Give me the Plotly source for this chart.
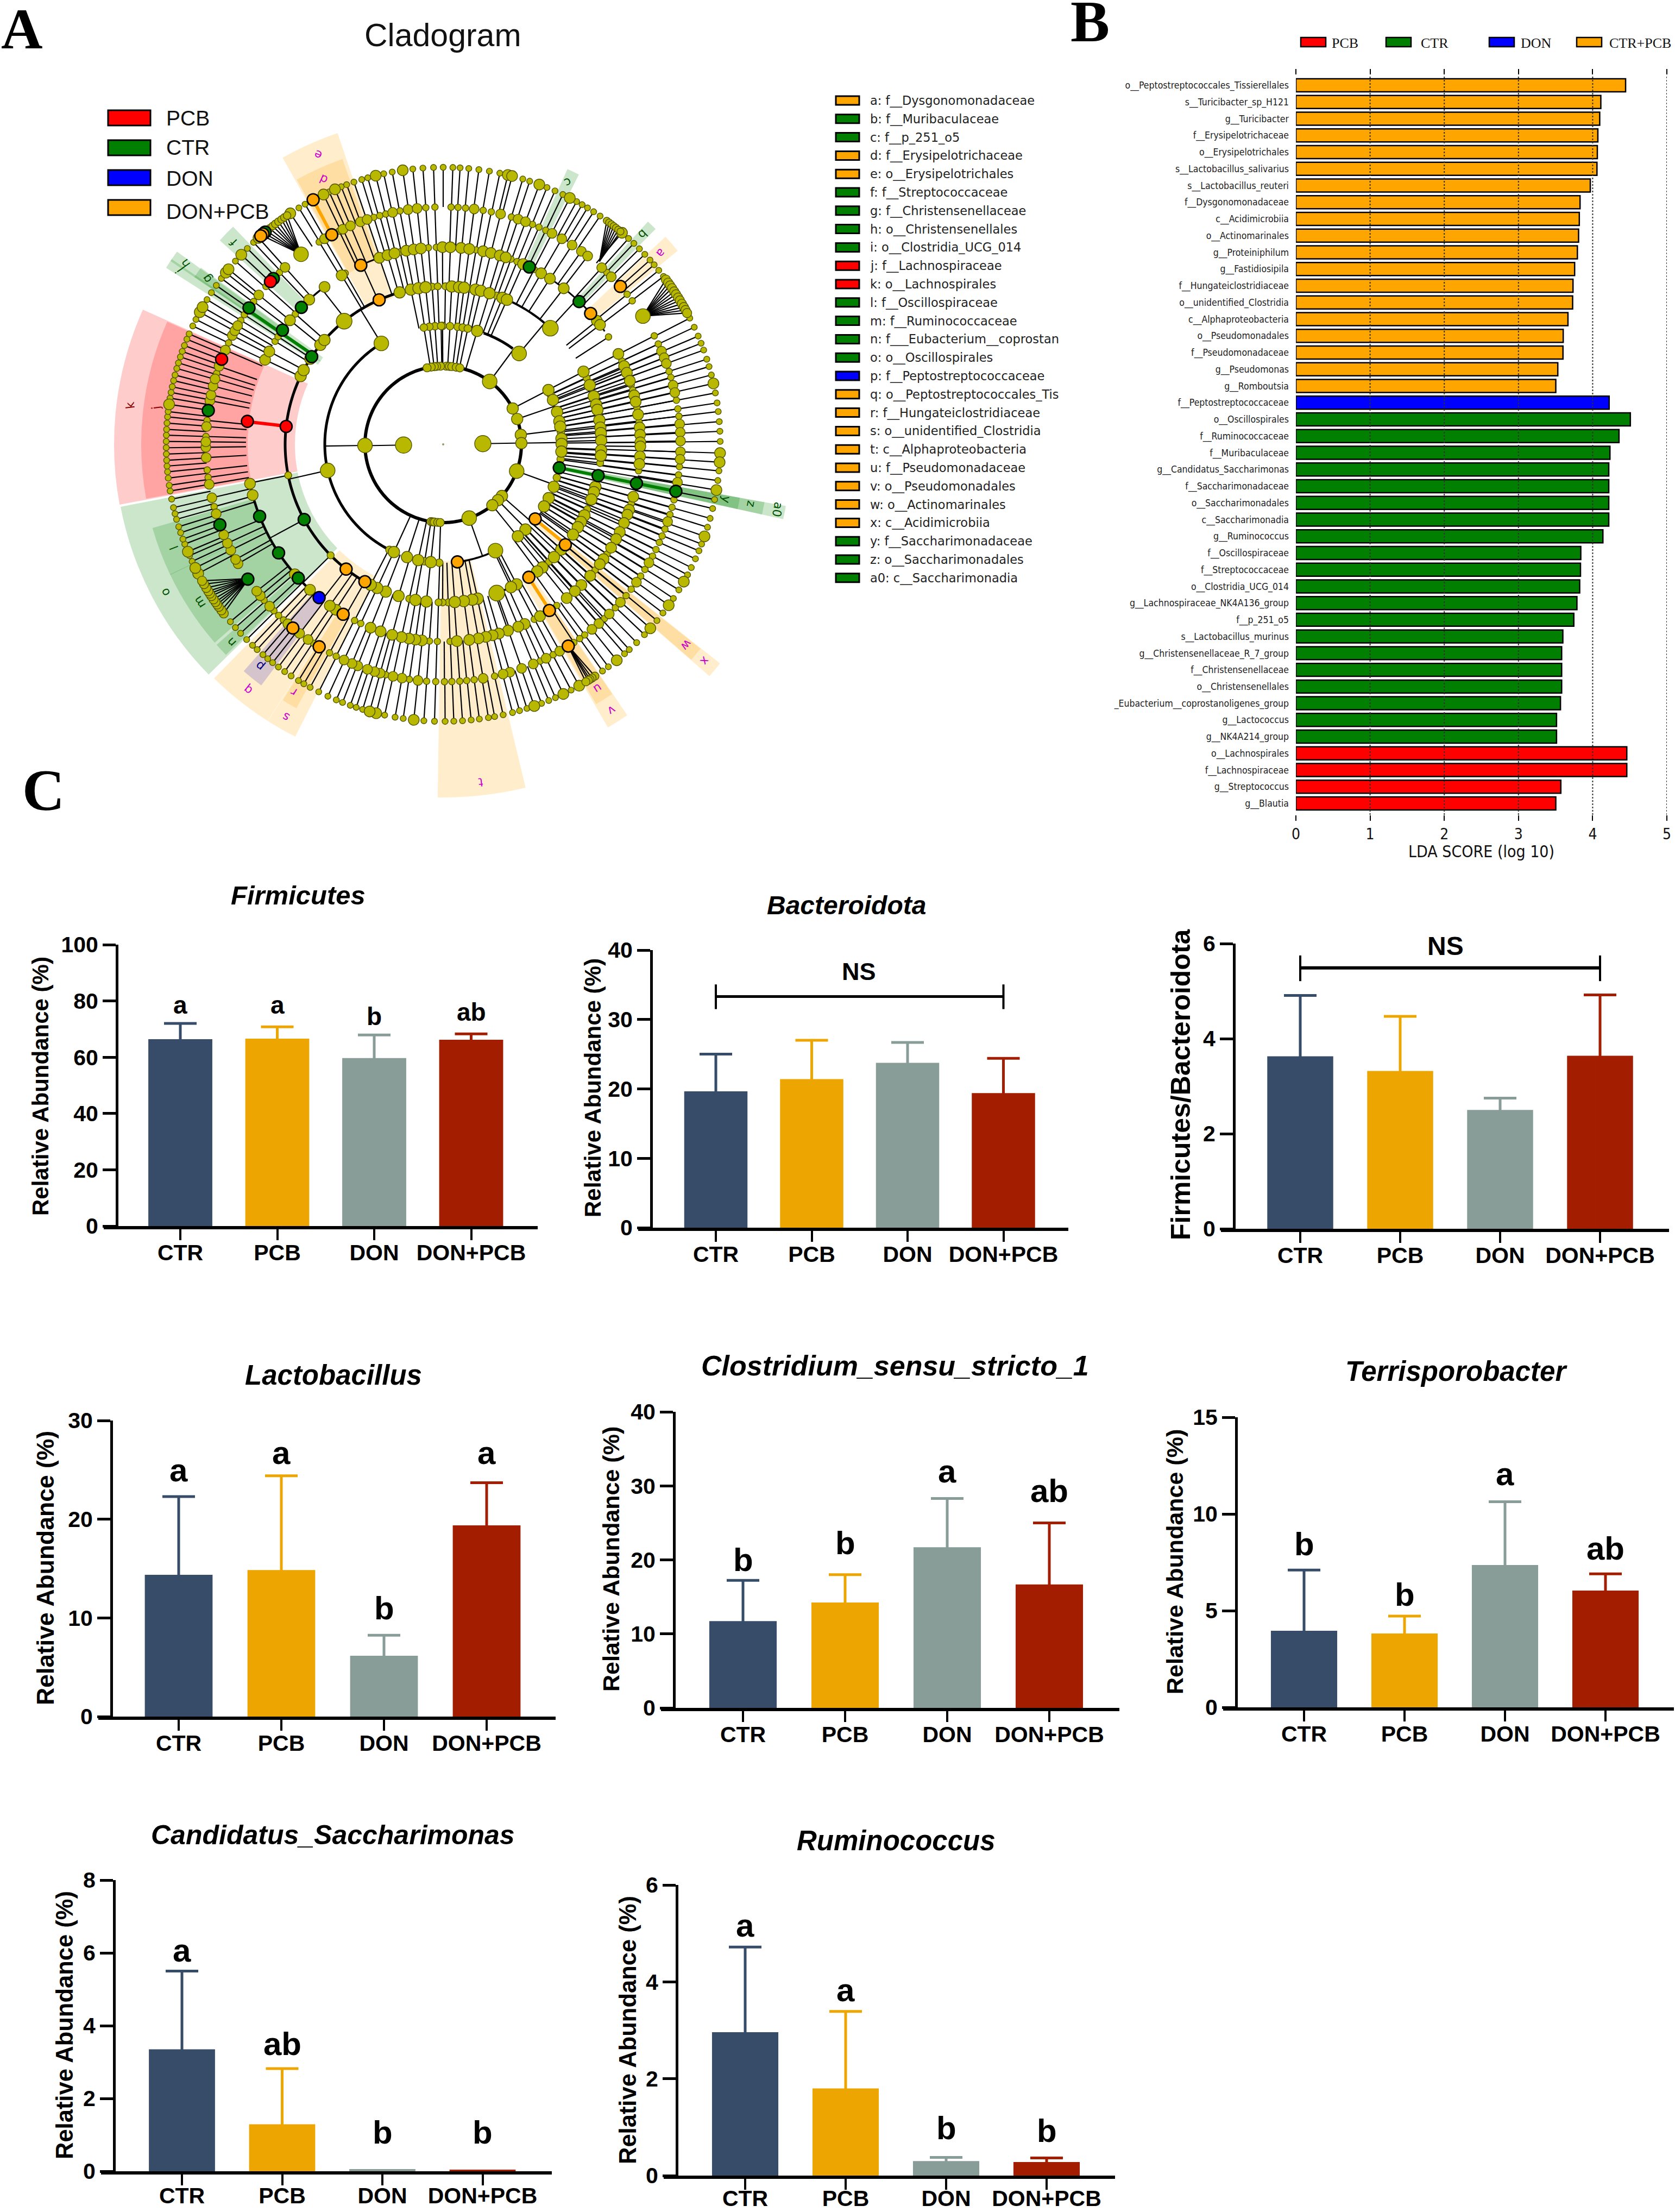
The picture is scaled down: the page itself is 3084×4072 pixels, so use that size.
import math
import numpy as np
import plotly.graph_objects as go

W, H = 3084, 4072
SANS = "Liberation Sans"
SERIF = "Liberation Serif"
DEJA = "DejaVu Sans"
DEJA_C = "DejaVu Sans Condensed, DejaVu Sans"

# ---------------------- data: LDA panel ----------------------
LDA_NAMES = ["o__Peptostreptococcales_Tissierellales", "s__Turicibacter_sp_H121", "g__Turicibacter",
             "f__Erysipelotrichaceae", "o__Erysipelotrichales", "s__Lactobacillus_salivarius",
             "s__Lactobacillus_reuteri", "f__Dysgonomonadaceae", "c__Acidimicrobiia", "o__Actinomarinales",
             "g__Proteiniphilum", "g__Fastidiosipila", "f__Hungateiclostridiaceae", "o__unidentified_Clostridia",
             "c__Alphaproteobacteria", "o__Pseudomonadales", "f__Pseudomonadaceae", "g__Pseudomonas",
             "g__Romboutsia", "f__Peptostreptococcaceae", "o__Oscillospirales", "f__Ruminococcaceae",
             "f__Muribaculaceae", "g__Candidatus_Saccharimonas", "f__Saccharimonadaceae", "o__Saccharimonadales",
             "c__Saccharimonadia", "g__Ruminococcus", "f__Oscillospiraceae", "f__Streptococcaceae",
             "o__Clostridia_UCG_014", "g__Lachnospiraceae_NK4A136_group", "f__p_251_o5", "s__Lactobacillus_murinus",
             "g__Christensenellaceae_R_7_group", "f__Christensenellaceae", "o__Christensenellales",
             "_Eubacterium__coprostanoligenes_group", "g__Lactococcus", "g__NK4A214_group", "o__Lachnospirales",
             "f__Lachnospiraceae", "g__Streptococcus", "g__Blautia"]
LDA_VALUES = [4.444, 4.11, 4.095, 4.07, 4.063, 4.058, 3.968, 3.83, 3.82, 3.81, 3.794, 3.757, 3.735, 3.73, 3.667,
              3.603, 3.60, 3.53, 3.503, 4.222, 4.508, 4.355, 4.233, 4.217, 4.217, 4.217, 4.217, 4.138, 3.84, 3.836,
              3.825, 3.788, 3.746, 3.598, 3.582, 3.582, 3.582, 3.566, 3.513, 3.513, 4.46, 4.46, 3.571, 3.503]
LDA_GROUPS = ["CTR+PCB"] * 19 + ["DON"] + ["CTR"] * 20 + ["PCB"] * 4
GROUP_COLORS = {"PCB": "#FF0000", "CTR": "#007F00", "DON": "#0000FF", "CTR+PCB": "#FFA500", "DON+PCB": "#FFA500"}

# ---------------------- data: bar panels ----------------------
CATEGORIES = ["CTR", "PCB", "DON", "DON+PCB"]
BAR_COLORS = ["#364C68", "#EDA501", "#889C98", "#A31D00"]

FIRMICUTES_MEAN = [66.4, 66.6, 59.7, 66.2]
FIRMICUTES_UPPER = [72.0, 70.8, 67.9, 68.3]
FIRMICUTES_LETTERS = ["a", "a", "b", "ab"]
FIRMICUTES_LETTER_Y = [78.5, 78.5, 74.6, 76.1]

BACTEROIDOTA_MEAN = [19.65, 21.4, 23.75, 19.4]
BACTEROIDOTA_UPPER = [25.0, 27.0, 26.7, 24.4]

RATIO_MEAN = [3.63, 3.32, 2.50, 3.64]
RATIO_UPPER = [4.91, 4.47, 2.75, 4.92]

LACTO_MEAN = [14.37, 14.85, 6.17, 19.37]
LACTO_UPPER = [22.3, 24.4, 8.25, 23.7]
LACTO_LETTERS = ["a", "a", "b", "a"]
LACTO_LETTER_Y = [24.95, 26.7, 11.0, 26.7]

CLOS_MEAN = [11.72, 14.23, 21.7, 16.67]
CLOS_UPPER = [17.23, 18.0, 28.3, 25.0]
CLOS_LETTERS = ["b", "b", "a", "ab"]
CLOS_LETTER_Y = [20.0, 22.3, 32.0, 29.3]

TERRI_MEAN = [3.96, 3.82, 7.36, 6.04]
TERRI_UPPER = [7.1, 4.72, 10.63, 6.9]
TERRI_LETTERS = ["b", "b", "a", "ab"]
TERRI_LETTER_Y = [8.44, 5.83, 12.07, 8.22]

CAND_MEAN = [3.35, 1.29, 0.06, 0.045]
CAND_UPPER = [5.5, 2.82, 0.06, 0.045]
CAND_LETTERS = ["a", "ab", "b", "b"]
CAND_LETTER_Y = [6.07, 3.5, 1.06, 1.06]

RUMI_MEAN = [2.96, 1.80, 0.30, 0.28]
RUMI_UPPER = [4.72, 3.39, 0.375, 0.365]
RUMI_LETTERS = ["a", "a", "b", "b"]
RUMI_LETTER_Y = [5.16, 3.83, 0.98, 0.92]

# ---------------------- data: cladogram legend ----------------------
CLADE_LABELS = ["a: f__Dysgonomonadaceae", "b: f__Muribaculaceae", "c: f__p_251_o5", "d: f__Erysipelotrichaceae",
                "e: o__Erysipelotrichales", "f: f__Streptococcaceae", "g: f__Christensenellaceae",
                "h: o__Christensenellales", "i: o__Clostridia_UCG_014", "j: f__Lachnospiraceae",
                "k: o__Lachnospirales", "l: f__Oscillospiraceae", "m: f__Ruminococcaceae",
                "n: f___Eubacterium__coprostan", "o: o__Oscillospirales", "p: f__Peptostreptococcaceae",
                "q: o__Peptostreptococcales_Tis", "r: f__Hungateiclostridiaceae", "s: o__unidentified_Clostridia",
                "t: c__Alphaproteobacteria", "u: f__Pseudomonadaceae", "v: o__Pseudomonadales",
                "w: o__Actinomarinales", "x: c__Acidimicrobiia", "y: f__Saccharimonadaceae",
                "z: o__Saccharimonadales", "a0: c__Saccharimonadia"]
CLADE_GROUPS = ["DON+PCB", "CTR", "CTR", "DON+PCB", "DON+PCB", "CTR", "CTR", "CTR", "CTR", "PCB", "PCB", "CTR", "CTR",
                "CTR", "CTR", "DON", "DON+PCB", "DON+PCB", "DON+PCB", "DON+PCB", "DON+PCB", "DON+PCB", "DON+PCB",
                "DON+PCB", "CTR", "CTR", "CTR"]

# ---------------------- data: cladogram sectors ----------------------
SECTOR_NAMES = ["a", "b", "c", "d", "e", "f", "g", "h", "i", "j", "k", "l", "m", "n", "o", "p", "q", "r", "s", "t",
                "u", "v", "w", "x", "y", "z", "a0"]
SECTOR_THETA = [41.3, 46.4, 64.5, 114.2, 114, 135.8, 145, 145.1, 146.6, 173.2, 173.2, 200.8, 213.2, 222.8, 207.7,
                230.8, 231.6, 239.4, 240.4, -83.7, -57.7, -57.8, -39.7, -39.7, -11.3, -11.3, -11.3]
SECTOR_WIDTH = [3.5, 2, 2.4, 9.5, 10.5, 3.6, 2.2, 2, 1.8, 34.3, 34.7, 9.5, 15.5, 2.6, 33.5, 4.3, 12, 3, 5.5, 14.4,
                3.6, 4, 2.5, 2.7, 2.2, 2.2, 2.2]
SECTOR_BASE = [360, 360, 360, 360, 285, 360, 360, 273, 273, 360, 273, 360, 360, 360, 273, 360, 273, 360, 273, 215,
               360, 289, 289, 215, 360, 289, 218]
SECTOR_TOP = [560, 557, 556, 557, 605, 557, 552, 605, 605, 556, 606, 557, 557, 557, 605, 556, 603, 556, 603, 650,
              555, 603, 605, 650, 555, 601, 641]
LABEL_R = [534, 534, 534, 535, 581, 537, 531, 580, 582, 533, 581, 531, 534, 534, 580, 530, 578, 533, 580, 626,
           532, 580, 580, 626, 531, 578, 627]
LABEL_THETA = [41.3, 46.5, 64.5, 114.3, 113.4, 136, 145, 145, 146.6, 172.8, 172.9, 201, 213, 223, 208, 230.4, 231.5,
               238.9, 240, -83.7, -57.7, -57.7, -39.5, -39.6, -11, -11, -11]
SECTOR_FILL = {"DON+PCB": "rgba(255,165,0,0.2)", "CTR": "rgba(0,128,0,0.2)", "PCB": "rgba(255,0,0,0.2)",
               "DON": "rgba(0,0,255,0.2)"}
LABEL_INK = {"DON+PCB": "#CC00CC", "CTR": "#005000", "PCB": "#8B0000", "DON": "#000080"}

# ---------------------- data: cladogram nodes (ring radius, angle in degrees) ----------------------
R1, R2, R3, R4, R5, R6, R7 = 73, 144, 218, 291, 363, 437, 510

RING7_SMALL = [88, 90, 86.5, 84.7, 82.6, 80.4, 78.2, 73.3, 71.8, 68, 66.2, 64.4, 61.2, 59.9, 58.6, 57.1, 55.5, 48,
               46.5, 44.9, 43.3, 41.7, 40.4, 38.9, 37.3, 27.1, 25, 23, 21.4, 19.9, 17.9, 16.3, 14.5, 10.7, 8.6, 6.8,
               4.7, 2.7, 0.6, -5.5, -7.5, -11.5, -13.4, -15.5, -17.4, -21.1, -22.6, -24.4, -26.4, -28.1, -31.7,
               -33.8, -37.5, -39.5, -43.4, -45.7, -47.8, -49.1, -53.4, -54.9, -62.5, -66.1, -67.6, -69.2, -72.4, -74,
               -75.5, -77.5, -79.3, -80.6, -82.5, -84.2, -86, -87.8, -89.6, 268.2, 266, 261.7, 260, 257.8, 253.1,
               251.7, 250.4, 248.7, 247.3, 245.4, 243.3, 241.3, 239.8, 238.5, 236.7, 235.1, 233.5, 232, 230.7, 229.4,
               227.8, 226.5, 224.8, 223, 221.4, 219.8, 205, 203.7, 201.1, 200, 198.6, 197.3, 195.7, 194.5, 193.2,
               191.4, 189.7, 188.5, 187, 185.7, 184.5, 183.3, 182, 180.7, 179.4, 178.1, 176.9, 175.6, 174.3, 173.2,
               170.4, 169.2, 168, 166.7, 165.5, 164.1, 162.9, 161.6, 160.4, 159.1, 157.7, 156.5, 154.7, 153.2, 148.5,
               146.8, 145, 143.2, 138.6, 135, 133.2, 121.4, 119.9, 114.3, 111.6, 110.4, 108.8, 107.1, 105.8, 102.4,
               100.6, 96.3, 94.2, 92]
RING7_BIG = [76.5, 75.6, 69.7, 62.8, 49.8, 12.7, -1.8, -3.7, -9.5, -19.4, -29.7, -35.5, -41.6, -51.2, -60.6, -64.3,
             -70.8, 263.9, 256, 254.6, 202.8, 207.8, 206.5, 171.7, 151.5, 150.3, 141.7, 140.8, 136.8, 131.8, 123.5,
             115.6, 113, 104.1, 98.4]

RING6_SMALL = [88.1, 86.4, 84.6, 80.3, 78.3, 73.3, 67.9, 66.2, 64.4, 46.4, 39.2, 37.2, 27.2, 25, 17.9, 16.4, 10.7, 8.6,
               6.8, -5.4, -7.4, -13.5, -15.4, -17.2, -20.9, -22.7, -24.4, -26.3, -28.1, -31.8, -33.7, -37.6, -39.6,
               -43.5, -47.2, -53.4, -54.9, -56.6, -62.4, -65.9, -77.5, -82.5, -84.3, -86, -87.9, -89.7, 268.2, 266,
               261.8, 256, 243.2, 241.4, 236.9, 227.7, 226.1, 224.5, 221, 195.2, 188, 186.2, 178.1, 174.2, 162.6, 154.7,
               148.5, 146.9, 143, 138.3, 133.6, 121.5, 116, 107, 105.5, 104, 100.5, 94.2, 92]
RING6_BIG = [82.5, 76, 71.6, 69.7, 62.7, 60, 57.1, 54.4, 52.5, 48.1, 44.9, 23.1, 21.4, 19.9, 14.4, 12.6, 4.9, 2.9, 0.8,
             -1.8, -3.6, -9.2, -19, -29.9, -35.5, -41.7, -45.6, -49, -51.2, -60.6, -64.3, -67.7, -70.7, -73.7, -75.4,
             -80.3, 263.9, 260, 257.8, 254.6, 253.2, 251.4, 248.9, 247.4, 245.3, 235.3, 232.8, 229.1, 223, 219.6,
             218.2, 210.2, 209, 206.5, 204.6, 202.4, 197, 193, 189.7, 183.2, 180.7, 179.4, 175.7, 169.4, 168, 165.8,
             164, 160.8, 156.6, 152.7, 151.4, 150, 141, 131.8, 120, 115, 113, 110.4, 108.7, 102.3, 98.5, 96.3]

RING5_SMALL = [80.4, 69.9, 68, 62.5, 33, 25, 22.2, 20, 17.5, 16, 10.7, 6.5, -7.7, -17.5, -33.8, -39.6, -54.8, -62.5,
               -88, 268.3, 266, 245.3, 243.3, 148.5, 146.9, 138.6, 102.6, 119.8, 94.3, 92]
RING5_BIG = [90.2, 87.9, 84.8, 82.4, 78.3, 76, 73.3, 71.5, 66.1, 60.2, 52.3, 57.2, 38.8, 37.3, 27.3, 23.4, 21.3, 18.8,
             14.4, 12.5, 8.7, 4.9, 2.8, 0.6, -0.6, -3.5, -5.7, -15.4, -19.4, -20.9, -23.5, -26.4, -28.7, -31.6, -35.6,
             -37.4, -41.8, -45.5, -48.1, -51.2, -60.6, -65.6, -67.6, -70.8, -73.6, -75.5, -77.5, -79.7, -82.4, -86,
             263.8, 261.9, 260, 257.8, 255, 251.5, 248.4, 237, 234.9, 227.5, 221.2, 194.9, 191.5, 154.6, 151.9, 141,
             132.8, 127, 121, 108.9, 106.4, 104.3, 100.8, 98.6, 96.5]

RING4_SMALL = [89.2, 80.4, 70.3, 94, 92, 10.8, 24.8, -6.8, -24.2, -48, -88.2, -90.2, 268.3, 257.6, 224.6, 191.3]
RING4_BIG = [86.9, 84.2, 82.4, 78.2, 76.2, 73, 68, 66.2, 27.4, 22, 17.7, 14.6, 12.6, 8.8, 6.1, 4.1, 1.4, -2.1, -4.1,
             -15.6, -17.6, -20.4, -26.7, -29.4, -31.6, -34.8, -41.7, -45.5, -51.1, -53.5, -62.3, -64.6, -77.4, -79.4,
             -82.5, -85.8, 263.9, 259.9, 253.6, 248.7, 245.3, 242.7, 154.4, 152, 147.2, 141, 138.7, 106, 101.8, 99,
             96.4]
RING4_HUB = [47.3, 128.8, -70.2]

RING3_SMALL = [86.7, 83, 80.5, 78, 90.3, 94, 96.7, 91, 99.4, 5.9, 25, -7.2, -16.3, 243, 261, 268.1]
RING3_BIG = [73.3, 27.3, 22, 15.9, 11.2, 8.6, 2.8, 0.2, -3.5, -21, -27, -31.6, -46, -50.9, 264, 257.8, 252.2, 245.4]
RING3_HUB = [50.1, 121.5, 192.7, -63.8]

RING2_SMALL = [87.7, 85.5, 83.7, 80.4, 77.7, 92, 94.8, 96.5, 98.8, 101.9, 261, 262.4, 263.5, 266, 267.8]
RING2_BIG = [27.3, 18.9, 7, 0.9, -41.3, -45.6, -51.1]
RING2_HUB = [53.5, 180.8, -20, -70.6]
RING1_NODES = [181, 1]

FAN_A_CHILDREN = [131, 130.3, 129.6, 128.8, 128, 127.3, 126.5, 125.7, 125, 124.3]
FAN_B_CHILDREN = [53.8, 53.2, 52.6, 52, 51.4, 50.8, 50.2]
FAN_C_CHILDREN = [36.5, 35.7, 35, 34.3, 33.5, 32.8, 32, 31.3, 30.5, 29.7, 29, 28.3]
FAN_D_CHILDREN = [217.6, 216.8, 215.9, 215.3, 214.7, 214, 213.2, 212.6, 212, 211.2, 210.3, 209.5]
FAN_E_CHILDREN = [-56.8, -57.5, -58, -58.4, -59]
FAN_PARENT_RADIUS = [437, 443, 437, 435, 435]
FAN_PARENT_ANGLE = [126.8, 49.5, 32.7, 214.6, -58.2]

ARC_RADIUS = [R2, R2, R3, R3, R3, R4, R4, R4, R5, R5, R5, R5]
ARC_START = [99, -90, 121.5, 54, -83, 106, 47.3, -70.2, 191, 35, 127, 109]
ARC_END = [262, 78, 245, 70.5, -64, 241, 66, -64, 228, 56, 133, 115]
ARC_WIDTH = [6, 6, 5, 5, 3.5, 5, 4, 4, 4.5, 3, 3.5, 3]

SPOKE_INNER = [R1, R1, R2, R2, R3, R3, R3, R4, R2, R3, R4, R2, R2, R2, R2, R2, R2, R2, R2, R4, R4, R4, R4, R4, R4, R4]
SPOKE_OUTER = [R2, R2, R3, R3, R4, R4, R4, R5, R3, R4, R5, R3, R3, R3, R3, R3, R3, R3, R3, R5, R5, R5, R5, R5, R5, R5]
SPOKE_ANGLE = [181, 1, 180.8, 53.5, 121.5, 192.7, 50.1, 47.3, -70.6, -63.8, -70.2, -20, 27.3, 18.9, 7, 0.9, -41.3,
               -45.6, -51.1, 208.4, 191.3, 224.6, 232.1, 240.3, 128, 114.3]

THICK_INNER = [R3, R4, R4, R6, R3, R4]
THICK_OUTER = [R6, R6, R5, R7, R4, R5]
THICK_ANGLE = [-11.4, 145.5, 173.4, 118, -39.2, -57.3]
THICK_GROUP = ["CTR", "CTR", "PCB", "DON+PCB", "DON+PCB", "DON+PCB"]

MARK_RED_R = [R4, R5, R6, R6]
MARK_RED_T = [173.5, 173.3, 159, 136.7]
MARK_GREEN_R = [R3, R4, R5, R6, R5, R5, R4, R5, R6, R5, R6, R7, R4, R5, R5, R6, R5, R6, R6]
MARK_GREEN_T = [-11.4, -11.4, -11.4, -11.4, 64.1, 46.4, 146.3, 144.6, 144.9, 136, 135.7, 130, 208.4, 201.4, 213.4,
                214.6, 222.7, 199.8, 171.8]
MARK_ORANGE_R = [R4, R5, R6, R7, R5, R6, R3, R4, R4, R5, R6, R3, R4, R4, R5, R6, R6, R7, R7]
MARK_ORANGE_T = [113.9, 114.7, 118, 118, 41.6, 41.7, -39, -39.4, -57.2, -57.4, -58.2, -83.1, 232.1, 240.3, 239.5, 238.5,
                 230.7, 130.6, 131.2]
MARK_BLUE_R = [R5]
MARK_BLUE_T = [231]

NODE_FILL = "#B8B800"
NODE_EDGE = "#555500"


def norm(a):
    return (a + 180) % 360 - 180


def within(a, spans):
    return any(lo <= norm(a) <= hi for lo, hi in spans)


# ---------------------- figure ----------------------
fig = go.Figure()
annotations, shapes = [], []


def pxx(x):
    return x / W


def pxy(y):
    return 1 - y / H


def note(text, x, y, size, bold=False, family=SANS, angle=0, color="#000000", italic=False, xanchor="center"):
    t = text
    if bold:
        t = "<b>" + t + "</b>"
    if italic:
        t = "<i>" + t + "</i>"
    annotations.append(dict(text=t, x=pxx(x), y=pxy(y), xref="paper", yref="paper", showarrow=False, textangle=angle,
                            xanchor=xanchor, yanchor="middle", font=dict(family=family, size=size, color=color)))


def rect(x0, y0, x1, y1, fill, lw=3):
    shapes.append(dict(type="rect", xref="paper", yref="paper", x0=pxx(x0), x1=pxx(x1), y0=pxy(y1), y1=pxy(y0),
                       fillcolor=fill, line=dict(color="#000000", width=lw)))


# --- cladogram ---
CX, CY, POLAR_R = 816, 818, 660
fig.add_trace(go.Barpolar(theta=SECTOR_THETA, width=SECTOR_WIDTH, base=SECTOR_BASE,
                          r=[t - b for t, b in zip(SECTOR_TOP, SECTOR_BASE)],
                          marker=dict(color=[SECTOR_FILL[CLADE_GROUPS[i]] for i in range(len(SECTOR_NAMES))],
                                      line=dict(width=0)),
                          hoverinfo="skip", showlegend=False))

thin_r, thin_t = [], []


def seg(r0, r1, t0, t1=None):
    thin_r.extend([r0, r1, None])
    thin_t.extend([t0, t0 if t1 is None else t1, None])


for a in RING7_SMALL + RING7_BIG:
    seg(R3 if within(a, [(-50, 27)]) else R6, R7, a)
for a in RING6_SMALL + RING6_BIG:
    seg(R5, R6, a)
for a in RING5_SMALL + RING5_BIG:
    if not within(a, [(-180, -132), (127, 134), (109, 116)]):
        seg(R4, R5, a)
for a in RING4_SMALL + RING4_BIG:
    if not within(a, [(106, 180), (-180, -119)]):
        seg(R3, R4, a)
for a in RING3_SMALL + RING3_BIG:
    if within(a, [(73, 100), (-115, -90)]):
        seg(R2, R3, a)
for r0, r1, a in zip(SPOKE_INNER, SPOKE_OUTER, SPOKE_ANGLE):
    seg(r0, r1, a)
for pr, pa, kids in zip(FAN_PARENT_RADIUS, FAN_PARENT_ANGLE,
                        [FAN_A_CHILDREN, FAN_B_CHILDREN, FAN_C_CHILDREN, FAN_D_CHILDREN, FAN_E_CHILDREN]):
    for k in kids:
        thin_r.extend([pr, R7, None])
        thin_t.extend([pa, k, None])
fig.add_trace(go.Scatterpolar(r=thin_r, theta=thin_t, mode="lines", line=dict(color="#000000", width=2.2),
                              hoverinfo="skip", showlegend=False))

for rad, a0, a1, lw in zip(ARC_RADIUS, ARC_START, ARC_END, ARC_WIDTH):
    th = np.arange(a0, a1 + 0.5, 1.0)
    fig.add_trace(go.Scatterpolar(r=[rad] * len(th), theta=th, mode="lines", line=dict(color="#000000", width=lw),
                                  hoverinfo="skip", showlegend=False))

for r0, r1, a, g in zip(THICK_INNER, THICK_OUTER, THICK_ANGLE, THICK_GROUP):
    fig.add_trace(go.Scatterpolar(r=[r0, r1], theta=[a, a], mode="lines",
                                  line=dict(color=GROUP_COLORS[g], width=6), hoverinfo="skip", showlegend=False))

node_groups = [(R7, 11, RING7_SMALL), (R7, 20, RING7_BIG), (R7, 14, FAN_A_CHILDREN), (R7, 13, FAN_B_CHILDREN),
               (R7, 17, FAN_C_CHILDREN), (R7, 17, FAN_D_CHILDREN), (R7, 15, FAN_E_CHILDREN),
               (R6, 12, RING6_SMALL), (R6, 18, RING6_BIG), (R5, 12, RING5_SMALL), (R5, 20, RING5_BIG),
               (R4, 13, RING4_SMALL), (R4, 21, RING4_BIG), (R4, 29, RING4_HUB),
               (R3, 14, RING3_SMALL), (R3, 21, RING3_BIG), (R3, 27, RING3_HUB),
               (R2, 15, RING2_SMALL), (R2, 21, RING2_BIG), (R2, 27, RING2_HUB), (R1, 30, RING1_NODES),
               (R6, 27, [126.8, 32.7])]
for rad, size, angles in node_groups:
    fig.add_trace(go.Scatterpolar(r=[rad] * len(angles), theta=angles, mode="markers",
                                  marker=dict(size=size, color=NODE_FILL, line=dict(color=NODE_EDGE, width=1.4)),
                                  hoverinfo="skip", showlegend=False))
fig.add_trace(go.Scatterpolar(r=[0], theta=[0], mode="markers", marker=dict(size=4, color="#9A9A6A"),
                              hoverinfo="skip", showlegend=False))
for rs, ts, g in [(MARK_GREEN_R, MARK_GREEN_T, "CTR"), (MARK_ORANGE_R, MARK_ORANGE_T, "DON+PCB"),
                  (MARK_RED_R, MARK_RED_T, "PCB"), (MARK_BLUE_R, MARK_BLUE_T, "DON")]:
    fig.add_trace(go.Scatterpolar(r=rs, theta=ts, mode="markers",
                                  marker=dict(size=22, color=GROUP_COLORS[g], line=dict(color="#000000", width=2.6)),
                                  hoverinfo="skip", showlegend=False))

for i, name in enumerate(SECTOR_NAMES):
    rad = math.radians(LABEL_THETA[i])
    note(name, CX + LABEL_R[i] * math.cos(rad), CY - LABEL_R[i] * math.sin(rad), 22, family=DEJA,
         angle=90 + abs(norm(LABEL_THETA[i])), color=LABEL_INK[CLADE_GROUPS[i]])

# cladogram legends and headings
for y0, name, ty in zip([203, 258, 313, 368], ["PCB", "CTR", "DON", "DON+PCB"], [218, 272, 329, 389]):
    rect(199, y0, 277, y0 + 28, GROUP_COLORS[name])
    note(name, 304, ty, 39, xanchor="left", color="#111111")
note("Cladogram", 815, 65, 59, color="#111111")
note("A", 40, 53, 106, bold=True, family=SERIF)
note("B", 2007, 39, 108, bold=True, family=SERIF)
note("C", 80, 1454, 108, bold=True, family=SERIF)
for i, (lab, g) in enumerate(zip(CLADE_LABELS, CLADE_GROUPS)):
    y = 185 + i * 33.8
    rect(1539, y - 8, 1582, y + 8, GROUP_COLORS[g], lw=3)
    note(lab, 1600, y, 22.5, family=DEJA, xanchor="left", color="#222222")

layout = dict(
    polar=dict(
        domain=dict(x=[pxx(CX - POLAR_R), pxx(CX + POLAR_R)], y=[pxy(CY + POLAR_R), pxy(CY - POLAR_R)]),
        radialaxis=dict(visible=False, range=[0, POLAR_R]),
        angularaxis=dict(visible=False, rotation=0, direction="counterclockwise", thetaunit="degrees"),
        bgcolor="rgba(0,0,0,0)", barmode="overlay"),
)

# --- LDA panel ---
LDA_X0, LDA_X5 = 2386, 3069
fig.add_trace(go.Bar(y=LDA_NAMES, x=LDA_VALUES, orientation="h", width=0.78,
                     marker=dict(color=[GROUP_COLORS[g] for g in LDA_GROUPS], line=dict(color="#000000", width=2.5)),
                     xaxis="x", yaxis="y", hoverinfo="skip", showlegend=False))
layout["xaxis"] = dict(domain=[pxx(LDA_X0), pxx(LDA_X5)], range=[0, 5], anchor="y", tickmode="array", automargin=False,
                       tickvals=[0, 1, 2, 3, 4, 5], ticks="outside", ticklen=10, tickwidth=1.5, tickcolor="#000000",
                       mirror="ticks", showline=False, showgrid=False, zeroline=False,
                       tickfont=dict(family=DEJA_C, size=28, color="#111111"))
layout["yaxis"] = dict(domain=[pxy(1500), pxy(138)], anchor="x", type="category", categoryorder="array",
                       automargin=False, categoryarray=LDA_NAMES, range=[43.68, -0.618], ticks="", showline=False,
                       showgrid=False, zeroline=False, tickmode="linear", dtick=1, ticklabelstandoff=12,
                       tickfont=dict(family=DEJA_C, size=17.5, color="#222222"))
for v in [1, 2, 3, 4, 5]:
    shapes.append(dict(type="line", xref="x", yref="y domain", x0=v, x1=v, y0=0, y1=1, layer="above",
                       line=dict(color="#333333", width=2, dash="dot")))
note("LDA SCORE (log 10)", 2727, 1568, 30, family=DEJA_C, color="#111111")
for x0, tx, name in zip([2395, 2552, 2742, 2903], [2450, 2614, 2798, 2961], ["PCB", "CTR", "DON", "CTR+PCB"]):
    rect(x0, 69, x0 + 46, 86, GROUP_COLORS[name], lw=2.5)
    note(name, tx, 80, 26, family=SERIF, xanchor="left", color="#111111")

# --- bar panels ---
panels = [
    dict(title="Firmicutes", ts=49, mean=FIRMICUTES_MEAN, upper=FIRMICUTES_UPPER, letters=FIRMICUTES_LETTERS,
         letter_y=FIRMICUTES_LETTER_Y, ax=215, end=990, base=2257, top=1739, c0=332, sp=178.5, ymax=100, dtick=20,
         tx=549, ty=1648, lx=74, ly=2000, ylab="Relative Abundance (%)", ls=42, lett=46, sd=-12),
    dict(title="Bacteroidota", ts=48, mean=BACTEROIDOTA_MEAN, upper=BACTEROIDOTA_UPPER, ax=1199, end=1967, base=2260,
         top=1749, c0=1318, sp=176.5, ymax=40, dtick=10, tx=1558, ty=1666, lx=1091, ly=2003,
         ylab="Relative Abundance (%)", ls=42, ns=(33.3, 35.05, 31.5, 1582, 1789, 5, 45), sd=-12),
    dict(title=None, mean=RATIO_MEAN, upper=RATIO_UPPER, ax=2272, end=3073, base=2262, top=1737, c0=2394, sp=184,
         ymax=6, dtick=2, lx=2174, ly=1996, ylab="Firmicutes/Bacteroidota", ls=50,
         ns=(5.49, 5.75, 5.21, 2661, 1742, 6, 48), sd=-12),
    dict(title="Lactobacillus", ts=51, mean=LACTO_MEAN, upper=LACTO_UPPER, letters=LACTO_LETTERS,
         letter_y=LACTO_LETTER_Y, ax=205, end=1023, base=3160, top=2615, c0=329, sp=189, ymax=30, dtick=10, tx=614,
         ty=2531, lx=83, ly=2887, ylab="Relative Abundance (%)", ls=44.5, lett=60, sd=-12),
    dict(title="Clostridium_sensu_stricto_1", ts=52, mean=CLOS_MEAN, upper=CLOS_UPPER, letters=CLOS_LETTERS,
         letter_y=CLOS_LETTER_Y, ax=1241, end=2061, base=3144, top=2599, c0=1368, sp=188, ymax=40, dtick=10, tx=1648,
         ty=2514, lx=1125, ly=2870, ylab="Relative Abundance (%)", ls=43, lett=60, sd=-12),
    dict(title="Terrisporobacter", ts=51, mean=TERRI_MEAN, upper=TERRI_UPPER, letters=TERRI_LETTERS,
         letter_y=TERRI_LETTER_Y, ax=2276, end=3082, base=3143, top=2609, c0=2401, sp=185, ymax=15, dtick=5, tx=2681,
         ty=2524, lx=2163, ly=2875, ylab="Relative Abundance (%)", ls=43, lett=60, sd=-12),
    dict(title="Candidatus_Saccharimonas", ts=50, mean=CAND_MEAN, upper=CAND_UPPER, letters=CAND_LETTERS,
         letter_y=CAND_LETTER_Y, ax=210, end=1016, base=3997, top=3461, c0=335, sp=184.5, ymax=8, dtick=2, tx=613,
         ty=3378, lx=119, ly=3728, ylab="Relative Abundance (%)", ls=43.5, lett=60, sd=-16),
    dict(title="Ruminococcus", ts=51, mean=RUMI_MEAN, upper=RUMI_UPPER, letters=RUMI_LETTERS, letter_y=RUMI_LETTER_Y,
         ax=1246, end=2053, base=4005, top=3470, c0=1372, sp=185, ymax=6, dtick=2, tx=1650, ty=3388, lx=1156, ly=3737,
         ylab="Relative Abundance (%)", ls=43.5, lett=60, sd=-19),
]

for n, p in enumerate(panels):
    idx = n + 2
    xa, ya = f"x{idx}", f"y{idx}"
    left = p["ax"] - 24
    for i, cat in enumerate(CATEGORIES):
        fig.add_trace(go.Bar(x=[i], y=[p["mean"][i]], width=0.66, xaxis=xa, yaxis=ya, showlegend=False, name=cat,
                             marker=dict(color=BAR_COLORS[i], line=dict(width=0)), hoverinfo="skip",
                             error_y=dict(type="data", symmetric=False, array=[p["upper"][i] - p["mean"][i]],
                                          arrayminus=[p["mean"][i]], color=BAR_COLORS[i], thickness=5, width=30,
                                          visible=p["upper"][i] > p["mean"][i])))
    layout[f"xaxis{idx}"] = dict(domain=[pxx(left), pxx(p["end"])], anchor=ya, automargin=False,
                                 range=[(left - p["c0"]) / p["sp"], (p["end"] - p["c0"]) / p["sp"]],
                                 tickmode="array", tickvals=[0, 1, 2, 3], ticktext=CATEGORIES, ticks="outside",
                                 ticklen=20, tickwidth=4, tickcolor="#000000", showline=True, linewidth=6,
                                 linecolor="#000000", showgrid=False, zeroline=False, ticklabelstandoff=p["sd"],
                                 tickfont=dict(family=SANS, size=41, color="#000000", weight="bold"))
    layout[f"yaxis{idx}"] = dict(domain=[pxy(p["base"]), pxy(p["top"])], anchor="free", automargin=False,
                                 position=pxx(p["ax"]), range=[0, p["ymax"]], tickmode="linear", tick0=0,
                                 dtick=p["dtick"], ticks="outside", ticklen=24, tickwidth=5, tickcolor="#000000",
                                 showline=True, linewidth=5, linecolor="#000000", showgrid=False, zeroline=False,
                                 tickfont=dict(family=SANS, size=41, color="#000000", weight="bold"))
    if p["title"]:
        note(p["title"], p["tx"], p["ty"], p["ts"], bold=True, italic=True)
    note(p["ylab"], p["lx"], p["ly"], p["ls"], bold=True, angle=-90)
    if "letters" in p:
        for i, (t, y) in enumerate(zip(p["letters"], p["letter_y"])):
            annotations.append(dict(text=f"<b>{t}</b>", x=i, y=y, xref=xa, yref=ya, showarrow=False,
                                    font=dict(family=SANS, size=p["lett"], color="#000000")))
    if "ns" in p:
        yl, yhi, ylo, nx, ny, lw, fs = p["ns"]
        for x0, x1, y0, y1 in [(0, 3, yl, yl), (0, 0, ylo, yhi), (3, 3, ylo, yhi)]:
            shapes.append(dict(type="line", xref=xa, yref=ya, x0=x0, x1=x1, y0=y0, y1=y1,
                               line=dict(color="#000000", width=lw if y0 == y1 else 4)))
        note("NS", nx, ny, fs, bold=True)

fig.update_layout(width=W, height=H, autosize=False, margin=dict(l=0, r=0, t=0, b=0), paper_bgcolor="#FFFFFF",
                  plot_bgcolor="rgba(0,0,0,0)", showlegend=False, barmode="overlay", annotations=annotations,
                  shapes=shapes, **layout)
fig.write_html("out.html", config=dict(displayModeBar=False),
               post_script="document.body.style.margin='0';document.documentElement.style.overflow='hidden';")
